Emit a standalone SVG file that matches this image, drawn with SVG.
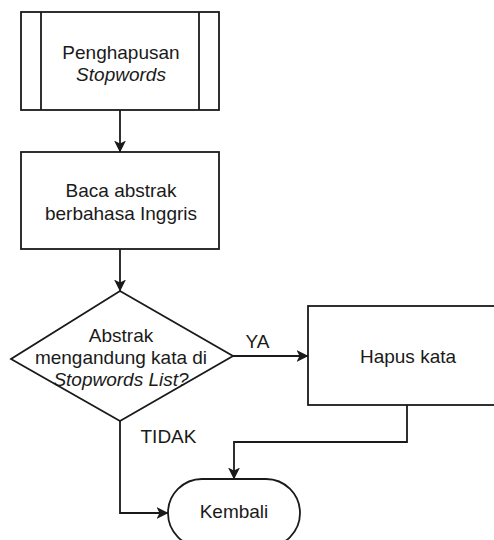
<svg xmlns="http://www.w3.org/2000/svg" width="494" height="540" viewBox="0 0 494 540">
  <style>
    .shape { fill: #ffffff; stroke: #1a1a1a; stroke-width: 1.8; }
    .edge { fill: none; stroke: #1a1a1a; stroke-width: 1.8; }
    .label { font-family: "Liberation Sans", Arial, sans-serif; font-size: 19px; fill: #1a1a1a; text-anchor: middle; }
    .it { font-style: italic; }
  </style>
  <defs>
    <marker id="arrow" viewBox="0 0 12 13" markerWidth="12" markerHeight="13" refX="11.5" refY="6.5" orient="auto" markerUnits="userSpaceOnUse">
      <path d="M0,0.5 L12,6.5 L0,12.5 L3,6.5 z" fill="#1a1a1a"/>
    </marker>
  </defs>
  <rect width="494" height="540" fill="#ffffff"/>

  <g id="connectors">
    <line class="edge" x1="120" y1="110" x2="120" y2="152" marker-end="url(#arrow)"/>
    <line class="edge" x1="120" y1="249" x2="120" y2="291" marker-end="url(#arrow)"/>
    <line class="edge" x1="233" y1="356" x2="308" y2="356" marker-end="url(#arrow)"/>
    <polyline class="edge" points="407,405 407,442 234,442 234,479" marker-end="url(#arrow)"/>
    <polyline class="edge" points="120,421 120,513 168,513" marker-end="url(#arrow)"/>
    <text class="label" x="257.5" y="348">YA</text>
    <text class="label" x="168.5" y="443">TIDAK</text>
  </g>

  <g id="node-penghapusan">
    <rect class="shape" x="21" y="12" width="198" height="98"/>
    <line class="edge" x1="41" y1="12" x2="41" y2="110"/>
    <line class="edge" x1="199" y1="12" x2="199" y2="110"/>
    <text class="label" x="121" y="59">Penghapusan</text>
    <text class="label it" x="121" y="81">Stopwords</text>
  </g>

  <g id="node-baca">
    <rect class="shape" x="21" y="152" width="198" height="97"/>
    <text class="label" x="121" y="197">Baca abstrak</text>
    <text class="label" x="121" y="220">berbahasa Inggris</text>
  </g>

  <g id="node-cek">
    <polygon class="shape" points="120,291 233,356 120,421 11,359"/>
    <text class="label" x="121" y="342">Abstrak</text>
    <text class="label" x="121" y="364">mengandung kata di</text>
    <text class="label it" x="121" y="386">Stopwords List?</text>
  </g>

  <g id="node-hapus">
    <rect class="shape" x="308" y="306" width="198" height="99"/>
    <text class="label" x="408" y="363">Hapus kata</text>
  </g>

  <g id="node-kembali">
    <rect class="shape" x="168" y="479" width="132" height="68" rx="34" ry="34"/>
    <text class="label" x="234" y="518">Kembali</text>
  </g>
</svg>
